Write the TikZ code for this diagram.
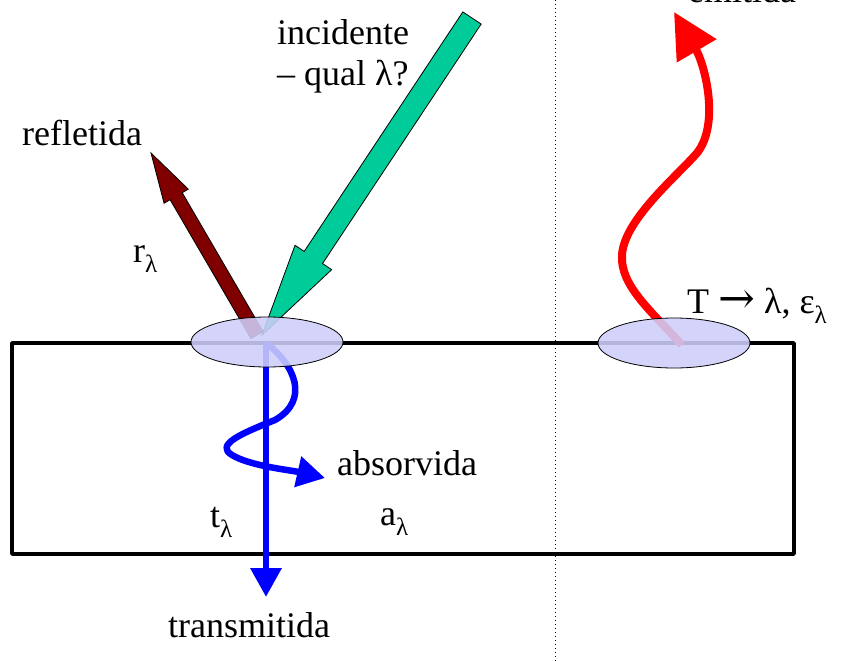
\documentclass[tikz,border=0pt]{standalone}
\usepackage{fontspec}
\setmainfont{Liberation Serif}
\newfontfamily\arrowfont{DejaVu Serif}
\usetikzlibrary{arrows.meta,calc,positioning,shapes.geometric}
\definecolor{radIncid}{HTML}{00CC99}
\definecolor{radRefl}{HTML}{800000}
\definecolor{radEmit}{HTML}{FF0000}
\definecolor{radTrans}{HTML}{0000FF}
\definecolor{spotFill}{HTML}{CFCFFA}

\newcommand{\lamsub}{\raisebox{-10pt}{\fontsize{25}{25}\selectfont λ}}
% tail, tip, shaft half width, head half width, head length, colour
\newcommand{\fatarrow}[6]{%
  \coordinate (hb) at ($(#2)!#5!(#1)$);
  \path[fatray,fill=#6] ($(#1)!#3!90:(#2)$) -- ($(hb)!#3!-90:(#1)$) -- ($(hb)!#4!-90:(#1)$) -- (#2)
    -- ($(hb)!#4!90:(#1)$) -- ($(hb)!#3!90:(#1)$) -- ($(#1)!#3!-90:(#2)$) -- cycle;}

\begin{document}
\begin{tikzpicture}[x=1pt,y=-1pt,>=Latex,line cap=butt,line join=round]
\tikzset{fatray/.style={draw=black,line width=0.8pt,line join=miter},
  waveray/.style={line width=6.5pt,draw=radTrans,-{Triangle[length=29pt,width=30pt]}},
  spot/.style={ellipse,draw=black,line width=0.8pt,fill=spotFill,fill opacity=0.88,minimum width=152pt,minimum height=50pt,inner sep=0pt},
  slab/.style={draw=black,line width=3.5pt,minimum width=782pt,minimum height=211pt,inner sep=0pt},
  divider/.style={draw=black,line width=1pt,dash pattern=on 1pt off 3pt},
  lbl/.style={anchor=base west,inner sep=0pt,font=\fontsize{36}{40}\selectfont}}
\useasboundingbox (0,0) rectangle (854,661);
\clip (0,0) rectangle (854,661);
\path[fill=white] (0,0) rectangle (854,661);
% divider and slab
\coordinate (divTop) at (555,0); \coordinate (divBot) at (555,661);
\draw[divider] (divTop) -- (divBot);
\node[slab] (slab) at (403,448.5) {};
% points on the surface
\coordinate (hitL) at (266,343); \coordinate (hitR) at (682,345);
\coordinate (incTail) at (472,18); \coordinate (incTip) at (262,335);
\coordinate (reflTail) at (257,335); \coordinate (reflTip) at (151,153);
\coordinate (transEnd) at (266,597); \coordinate (absEnd) at (325,478);
\coordinate (emitEnd) at (674,12);
% rays
\fatarrow{reflTail}{reflTip}{7pt}{14pt}{50pt}{radRefl}
\fatarrow{incTail}{incTip}{11pt}{22pt}{93pt}{radIncid}
\draw[waveray] (hitL) -- (transEnd);
\draw[waveray,-{Triangle[length=28pt,width=30pt]}] (hitL) .. controls (295,365) and (310,400) .. (275,420)
  .. controls (240,434) and (215,445) .. (232,455) .. controls (250,466) and (290,470) .. (absEnd);
\draw[line width=8pt,draw=radEmit,-{Triangle[length=45pt,width=44pt]}] (hitR) .. controls (650,310) and (620,285) .. (622,255)
  .. controls (624,220) and (677,176) .. (697,153) .. controls (720,124) and (705,65) .. (emitEnd);
% spots
\node[spot] (spotL) at (267,342) {};
\node[spot] (spotR) at (674,343) {};
% labels
\node[lbl] (incLbl) at (277,45) {incidente};
\node[lbl] (incLbl2) at (277,85) {– qual λ?};
\node[lbl] (reflLbl) at (22,145) {refletida};
\node[lbl] (rLbl) at (133,262) {r\lamsub};
\node[lbl] (emitLbl) at (688,3) {emitida};
\node[lbl] (tempLbl) at (687,313) {T {\arrowfont\fontsize{44}{44}\selectfont →} λ, ε\lamsub};
\node[lbl] (absLbl) at (337,475) {absorvida};
\node[lbl] (aLbl) at (380,525) {a\lamsub};
\node[lbl] (tLbl) at (210,527) {t\lamsub};
\node[lbl] (transLbl) at (168,637) {transmitida};
\end{tikzpicture}
\end{document}
